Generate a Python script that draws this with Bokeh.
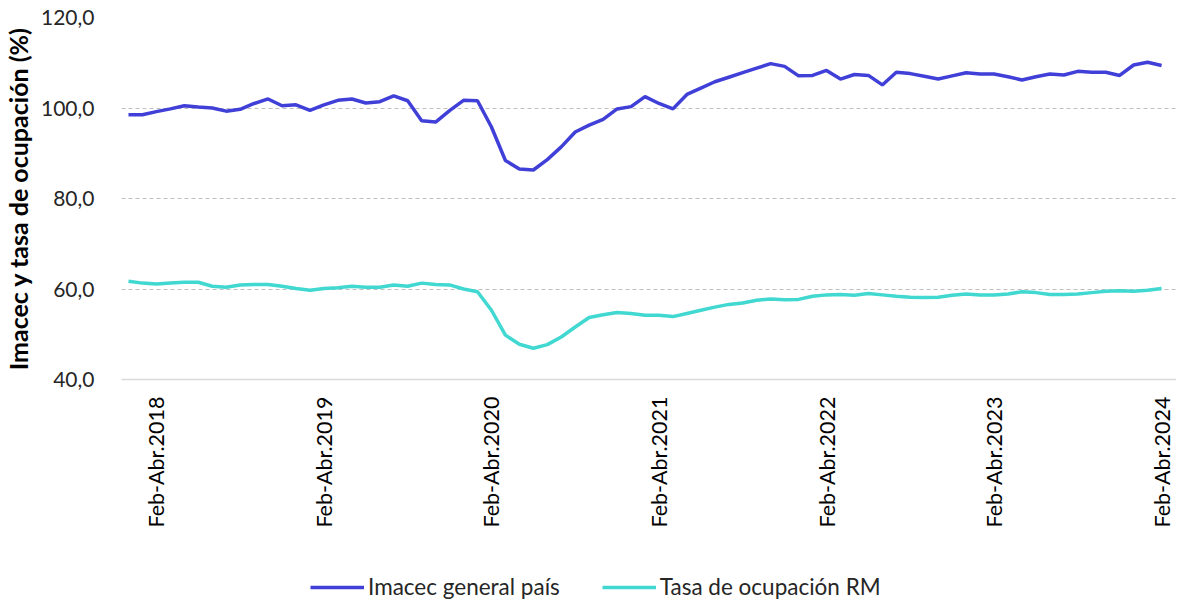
from bokeh.plotting import figure
from bokeh.models import Range1d, FixedTicker, Legend, LegendItem
from bokeh.layouts import column
from bokeh.embed import file_html
from bokeh.resources import INLINE
import math

# 75 rolling quarters: Dic-Feb.2018 ... Feb-Abr.2024
imacec = [98.5, 98.5, 99.2, 99.8, 100.5, 100.2, 100.0, 99.3, 99.7, 101.0,
          102.0, 100.5, 100.7, 99.5, 100.7, 101.7, 102.0, 101.1, 101.4, 102.7,
          101.6, 97.2, 96.9, 99.4, 101.7, 101.6, 95.8, 88.4, 86.5, 86.3,
          88.6, 91.4, 94.7, 96.2, 97.5, 99.8, 100.3, 102.5, 101.0, 99.8,
          103.0, 104.4, 105.8, 106.8, 107.8, 108.8, 109.8, 109.2, 107.1, 107.2,
          108.3, 106.4, 107.4, 107.2, 105.1, 107.9, 107.6, 107.0, 106.4, 107.1,
          107.8, 107.5, 107.5, 106.9, 106.2, 106.9, 107.5, 107.3, 108.1, 107.9,
          107.9, 107.2, 109.5, 110.1, 109.4]
ocupacion = [61.7, 61.3, 61.1, 61.3, 61.5, 61.5, 60.6, 60.4, 60.9, 61.0,
             61.0, 60.6, 60.1, 59.7, 60.1, 60.3, 60.6, 60.4, 60.4, 60.9,
             60.6, 61.3, 61.0, 60.9, 60.0, 59.4, 55.3, 49.8, 47.8, 46.9,
             47.7, 49.4, 51.6, 53.7, 54.3, 54.8, 54.6, 54.2, 54.2, 53.9,
             54.6, 55.3, 56.0, 56.6, 56.9, 57.5, 57.8, 57.6, 57.7, 58.4,
             58.7, 58.8, 58.6, 59.0, 58.7, 58.4, 58.2, 58.1, 58.2, 58.6,
             58.9, 58.7, 58.7, 58.9, 59.4, 59.2, 58.8, 58.8, 58.9, 59.2,
             59.5, 59.6, 59.5, 59.7, 60.1]
tick_positions = [2, 14, 26, 38, 50, 62, 74]
tick_labels = ["Feb-Abr.2018", "Feb-Abr.2019", "Feb-Abr.2020", "Feb-Abr.2021",
               "Feb-Abr.2022", "Feb-Abr.2023", "Feb-Abr.2024"]
y_ticks = [40, 60, 80, 100, 120]
y_tick_labels = ["40,0", "60,0", "80,0", "100,0", "120,0"]
series_names = ["Imacec general país", "Tasa de ocupación RM"]
colors = ["#4040D8", "#40D8D0"]

FONT = "Lato"
x = list(range(len(imacec)))

p = figure(frame_width=1055, frame_height=362, output_backend="svg", toolbar_location=None,
           x_range=Range1d(-0.5, 75.07), y_range=Range1d(40, 120),
           min_border_left=110, min_border_right=0, min_border_top=17,
           min_border_bottom=0)
p.outline_line_color = None
p.background_fill_color = "white"

r1 = p.line(x, imacec, line_color=colors[0], line_width=3.5)
r2 = p.line(x, ocupacion, line_color=colors[1], line_width=3.5)

p.xgrid.grid_line_color = None
p.ygrid.ticker = FixedTicker(ticks=[60, 80, 100, 120])
p.ygrid.grid_line_color = "#BFBFBF"
p.ygrid.grid_line_dash = "4 3"
p.ygrid.grid_line_width = 1

xa = p.xaxis[0]
xa.ticker = FixedTicker(ticks=tick_positions)
xa.major_label_overrides = {t: l for t, l in zip(tick_positions, tick_labels)}
xa.major_label_orientation = math.pi / 2
xa.major_tick_line_color = None
xa.minor_tick_line_color = None
xa.axis_line_color = "#D9D9D9"
xa.axis_line_width = 1.5
xa.major_label_text_font = FONT
xa.major_label_text_font_size = "21.5px"
xa.major_label_text_color = "#000000"
xa.major_label_standoff = 11

ya = p.yaxis[0]
ya.ticker = FixedTicker(ticks=y_ticks)
ya.major_label_overrides = {t: l for t, l in zip(y_ticks, y_tick_labels)}
ya.axis_line_color = None
ya.major_tick_line_color = None
ya.minor_tick_line_color = None
ya.major_label_text_font = FONT
ya.major_label_text_font_size = "21px"
ya.major_label_text_color = "#262626"
ya.major_label_standoff = 21
ya.axis_label = "Imacec y tasa de ocupación (%)"
ya.axis_label_text_font = FONT
ya.axis_label_text_font_style = "bold"
ya.axis_label_text_font_size = "25px"
ya.axis_label_text_color = "#000000"
ya.axis_label_standoff = 5

# legend strip below the chart (legend keys drawn off-view)
lf = figure(width=1165, height=70, output_backend="svg", toolbar_location=None,
            x_axis_type=None, y_axis_type=None, min_border=0,
            x_range=Range1d(0, 1), y_range=Range1d(0, 1))
lf.outline_line_color = None
lf.xgrid.grid_line_color = None
lf.ygrid.grid_line_color = None
k1 = lf.line([-2, -1], [-2, -1], line_color=colors[0], line_width=3.5)
k2 = lf.line([-2, -1], [-2, -1], line_color=colors[1], line_width=3.5)
legend = Legend(items=[LegendItem(label=series_names[0], renderers=[k1]),
                       LegendItem(label=series_names[1], renderers=[k2])],
                orientation="horizontal", location=(189, 0))
legend.label_text_font = FONT
legend.label_text_font_size = "22.5px"
legend.label_text_color = "#262626"
legend.glyph_width = 54
legend.label_standoff = 4
legend.spacing = 42
legend.border_line_color = None
legend.background_fill_alpha = 0
legend.margin = 0
legend.padding = 0
lf.add_layout(legend, "center")

layout = column(p, lf, spacing=0)
open("out.html", "w").write(file_html(layout, INLINE))
